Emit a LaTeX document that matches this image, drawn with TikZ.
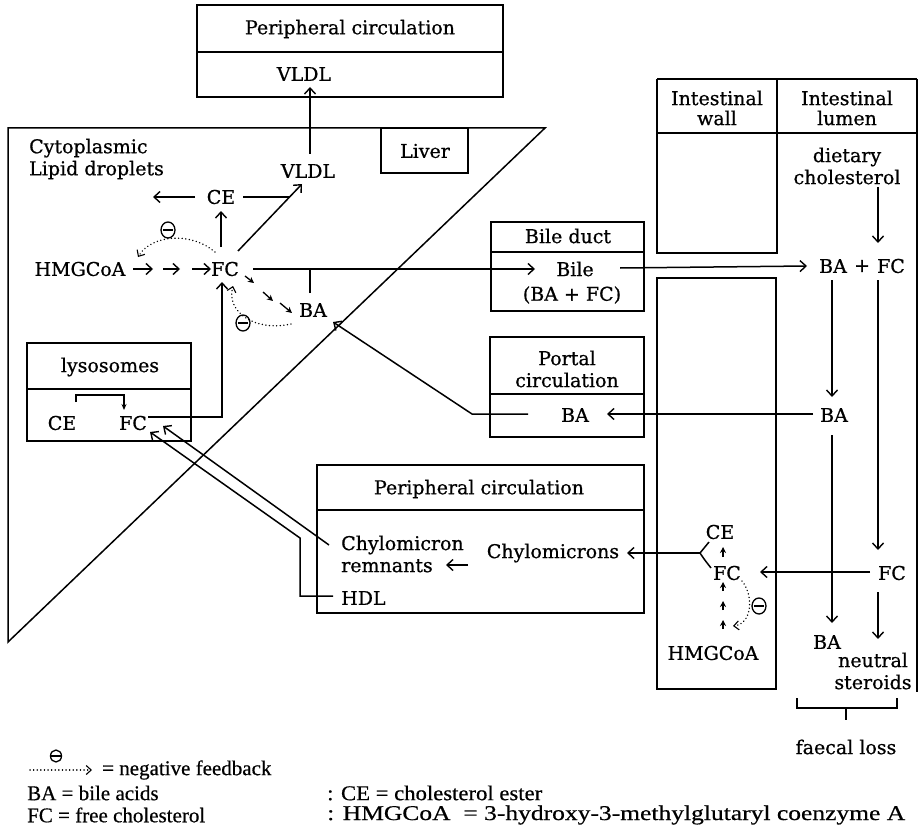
\documentclass[tikz,border=0pt]{standalone}
\usepackage{fontspec}
\usepackage{graphicx}
\setmainfont{DejaVu Serif}[FakeBold=0.7]
\newfontfamily\legendfont{Liberation Serif}[FakeBold=0.5]
\usetikzlibrary{arrows.meta,calc,shapes.geometric}
\newcommand\fitw[2]{\resizebox{#1}{\height}{#2}}
\begin{document}
\begin{tikzpicture}[x=1pt,y=-1pt,
  lbl/.style={font=\fontsize{19}{22}\selectfont, inner sep=1pt, align=center},
  leg/.style={font=\legendfont\fontsize{21}{24}\selectfont, inner sep=0pt, anchor=west},
  box/.style={draw, line width=1.5pt},
  conn/.style={line width=1.5pt},
  arr/.style={line width=1.5pt, -{Straight Barb[length=6pt,width=11pt,line width=1.4pt]}},
  sarr/.style={line width=1.3pt, -{Stealth[length=6pt,width=6pt]}},
  fb/.style={line width=1.5pt, dash pattern=on 0.1pt off 3.5pt, line cap=round, -{Straight Barb[length=5pt,width=9pt,line width=1.1pt]}},
  negsym/.style={ellipse, draw, line width=1.3pt, inner sep=0pt, minimum width=14pt, minimum height=16pt,
    path picture={\draw[line width=1.5pt] ([xshift=-5pt]path picture bounding box.center) -- ([xshift=5pt]path picture bounding box.center);}},
]
\useasboundingbox (0,0) rectangle (920,829);

% top peripheral circulation
\draw[box] (197,5) rectangle (503,97);
\draw[box] (197,52) -- (503,52);
\node[lbl] (pctop) at (350,29) {Peripheral circulation};
\node[lbl] (vldltop) at (304,74) {VLDL};

% liver
\draw[box] (8,128) -- (545,128) -- (8,642) -- cycle;
\draw[box] (381,128) rectangle (468,173);
\node[lbl] (liver) at (425,151) {Liver};
\node[lbl, align=left, anchor=west] (cyto) at (28,159) {Cytoplasmic\\Lipid droplets};

\node[lbl] (vldl) at (308,171) {VLDL};
\node[lbl] (ce) at (221,197) {CE};
\node[lbl] (fc) at (225,269) {FC};
\node[lbl] (hmg) at (80,269) {HMGCoA};
\node[lbl] (ba) at (313,310) {BA};
\coordinate (cyt) at (153,197);
\coordinate (j1) at (290,197);

\draw[arr] ($(vldl)+(2,-17)$) -- ($(vldltop)+(6,13)$);
\draw[arr] ($(ce)+(-26,0)$) -- (cyt);
\draw[conn] ($(ce)+(22,0)$) -- (j1);
\draw[arr] ($(fc)+(-4,-22)$) -- ($(ce)+(0,14)$);
\draw[arr] ($(fc)+(13,-18)$) -- ($(vldl)+(-6,13)$);
\draw[arr] ($(hmg)+(53,0)$) -- ($(hmg)+(73,0)$);
\draw[arr] ($(hmg)+(83,0)$) -- ($(hmg)+(100,0)$);
\draw[arr] ($(fc)+(-33,0)$) -- ($(fc)+(-14,0)$);
\draw[fb] ($(fc)+(-10,-17)$) .. controls (192,232) and (152,234) .. ($(hmg)+(58,-12)$);
\node[negsym] (neg1) at (168,230) {};

\draw[sarr] ($(fc)+(20,7)$) -- ($(fc)+(29,14)$);
\draw[sarr] ($(fc)+(38,23)$) -- ($(fc)+(48,32)$);
\draw[sarr] ($(fc)+(55,34)$) -- ($(fc)+(67,44)$);
\draw[conn] ($(ba)+(-3,-17)$) -- ($(ba)+(-3,-41)$);
\draw[fb] ($(ba)+(-22,14)$) .. controls (255,332) and (226,312) .. ($(fc)+(8,17)$);
\node[negsym] (neg2) at (243,323) {};

% lysosomes
\draw[box] (27,343) rectangle (191,441);
\draw[box] (27,389) -- (191,389);
\node[lbl] (lyso) at (110,367) {lysosomes};
\node[lbl] (lce) at (62,423) {CE};
\node[lbl] (lfc) at (133,423) {FC};
\draw[line width=1.1pt, -{Stealth[length=6pt,width=5pt]}] ($(lce)+(14,-21)$) |- ($(lfc)+(-9,-28)$) -- ($(lfc)+(-9,-13)$);
\draw[arr] ($(lfc)+(15,-6)$) -| ($(fc)+(-3,13)$);

% bile duct
\draw[box] (491,222) rectangle (644,311);
\draw[box] (491,252) -- (644,252);
\node[lbl] (bileduct) at (568,236) {Bile duct};
\node[lbl] (bile) at (575,269) {Bile};
\node[lbl] (bilec) at (572,295) {(BA + FC)};
\draw[arr] ($(fc)+(28,0)$) -- ($(bile)+(-40,0)$);

% portal
\draw[box] (490,337) rectangle (644,437);
\draw[box] (490,394) -- (644,394);
\node[lbl] (portal) at (567,369) {Portal\\circulation};
\node[lbl] (pba) at (575,415) {BA};
\coordinate (pk) at (472,414);
\draw[arr] ($(pba)+(-47,-1)$) -- (pk) -- ($(ba)+(20,12)$);

% lower peripheral circulation
\draw[box] (317,465) rectangle (644,613);
\draw[box] (317,510) -- (644,510);
\node[lbl] (pcl) at (479,489) {Peripheral circulation};
\node[lbl, align=left, anchor=west] (crem) at (340,554) {Chylomicron\\remnants};
\node[lbl] (chy) at (553,553) {Chylomicrons};
\node[lbl, anchor=west] (hdl) at (340,598) {HDL};
\draw[arr] ($(chy)+(-85,12)$) -- ($(chy)+(-107,12)$);
\draw[arr] ($(crem.west)+(-11,-9)$) -- ($(lfc)+(30,3)$);
\coordinate (hk) at (300,538);
\draw[arr] ($(hdl.west)+(-7,-2)$) -| (hk) -- ($(lfc)+(17,9)$);

% intestine
\draw[box] (657,79) -- (917,79);
\draw[box] (657,79) -- (657,253) -- (777,253) -- (777,79);
\draw[box] (657,133) -- (917,133);
\draw[box] (917,79) -- (917,692);
\draw[box] (657,278) rectangle (776,689);
\node[lbl, font=\fontsize{19}{20}\selectfont] (iw) at (717,108) {Intestinal\\wall};
\node[lbl, font=\fontsize{19}{20}\selectfont] (il) at (847,108) {Intestinal\\lumen};
\node[lbl] (diet) at (847,166) {dietary\\cholesterol};
\node[lbl] (luba) at (833,266) {BA};
\node[lbl] (plus) at (862,266) {+};
\node[lbl] (lufc) at (891,266) {FC};
\draw[arr] ($(lufc)+(-13,-79)$) -- ($(lufc)+(-13,-23)$);
\draw[arr] ($(bile)+(45,-1)$) -- ($(luba)+(-26,0)$);
\node[lbl] (bab) at (834,415) {BA};
\draw[arr] ($(luba)+(-1,14)$) -- ($(bab)+(-2,-18)$);
\draw[arr] ($(bab)+(-21,-1)$) -- ($(pba)+(32,-1)$);
\node[lbl] (lfcb) at (892,573) {FC};
\draw[arr] ($(lufc)+(-13,14)$) -- ($(lfcb)+(-14,-23)$);
\node[lbl] (baf) at (827,642) {BA};
\draw[arr] ($(bab)+(-2,20)$) -- ($(baf)+(5,-19)$);
\node[lbl] (ns) at (873,671) {neutral\\steroids};
\draw[arr] ($(lfcb)+(-14,19)$) -- ($(lfcb)+(-14,66)$);

% intestinal wall interior
\node[lbl] (wce) at (720,532) {CE};
\node[lbl] (wfc) at (727,573) {FC};
\node[lbl] (whmg) at (713,653) {HMGCoA};
\draw[arr] ($(lfcb)+(-22,-1)$) -- ($(wfc)+(33,-1)$);
\draw[sarr] ($(wfc)+(-4,-16)$) -- ($(wfc)+(-4,-26)$);
\draw[sarr] ($(wfc)+(-4,18)$) -- ($(wfc)+(-4,9)$);
\draw[sarr] ($(wfc)+(-4,37)$) -- ($(wfc)+(-4,28)$);
\draw[sarr] ($(wfc)+(-4,56)$) -- ($(wfc)+(-4,47)$);
\draw[fb] ($(wfc)+(15,8)$) .. controls (754,596) and (752,624) .. ($(wfc)+(6,53)$);
\node[negsym] (neg3) at (759,606) {};
\coordinate (yj) at (700,553);
\draw[conn] ($(wce)+(-11,10)$) .. controls (704,548) .. (yj) .. controls (704,559) .. ($(wfc)+(-16,-5)$);
\draw[arr] (yj) -- ($(chy)+(74,0)$);

% faecal loss bracket
\draw[conn] (797,698) -- (797,708) -- (897,708) -- (897,698);
\draw[conn] (846,708) -- (846,720);
\node[lbl] (faecal) at (846,747) {faecal loss};

% legend
\node[negsym, minimum width=11pt, minimum height=12pt] (negl) at (56,756) {};
\coordinate (ld1) at (30,770);
\coordinate (ld2) at (92,770);
\draw[fb] (ld1) -- (ld2);
\node[leg] (l1) at (102,770) {= negative feedback};
\node[leg] (l2) at (27,793) {BA = bile acids};
\node[leg] (l3) at (27,815) {FC = free cholesterol};
\node[leg] (l4) at (327,793) {\fitw{215pt}{: CE = cholesterol ester}};
\node[leg] (l5) at (327,815) {\fitw{578pt}{: HMGCoA\ \ = 3-hydroxy-3-methylglutaryl coenzyme A}};
\end{tikzpicture}
\end{document}
